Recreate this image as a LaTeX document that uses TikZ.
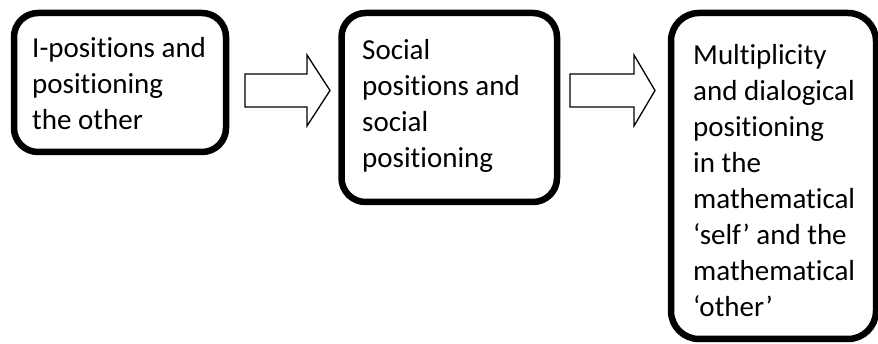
\documentclass[tikz,border=0pt]{standalone}
\usepackage{fontspec}
\setmainfont[Ligatures={NoCommon}]{Carlito}
\begin{document}
\begin{tikzpicture}[x=1pt,y=-1pt,
  box/.style={draw=black, line width=6.5pt, rounded corners=24pt, fill=white, inner sep=0pt},
  txt/.style={anchor=base west, align=left, inner sep=0pt, font=\fontsize{29}{36}\selectfont},
  blockarrow/.style={draw=black, line width=1.3pt, fill=white, line join=miter}]
  \useasboundingbox (0,0) rectangle (878,344);
  % stage boxes
  \node[box, minimum width=212pt, minimum height=139pt] (b1) at (120,82.5) {};
  \node[box, minimum width=215.5pt, minimum height=189pt] (b2) at (449.25,107.5) {};
  \node[box, minimum width=205pt, minimum height=326pt, rounded corners=28pt] (b3) at (773.5,176) {};
  % box texts (anchored at the baseline of their last line)
  \node[txt] (t1) at (32,130) {I-positions and\\positioning\\the other};
  \node[txt] (t2) at (362,168) {Social\\positions and\\social\\positioning};
  \node[txt] (t3) at (693,317) {Multiplicity\\and dialogical\\positioning\\in the\\mathematical\\‘self’ and the\\mathematical\\‘other’};
  % block arrows between the stages
  \coordinate (a1) at (245,90.5);
  \coordinate (a2) at (570,90.5);
  \draw[blockarrow] (a1) ++(0,-16.5) -- ++(62,0) -- ++(0,-19) -- ++(23,35.5) -- ++(-23,35.5) -- ++(0,-19) -- ++(-62,0) -- cycle;
  \draw[blockarrow] (a2) ++(0,-16.5) -- ++(64,0) -- ++(0,-19) -- ++(21,35.5) -- ++(-21,35.5) -- ++(0,-19) -- ++(-64,0) -- cycle;
\end{tikzpicture}
\end{document}
